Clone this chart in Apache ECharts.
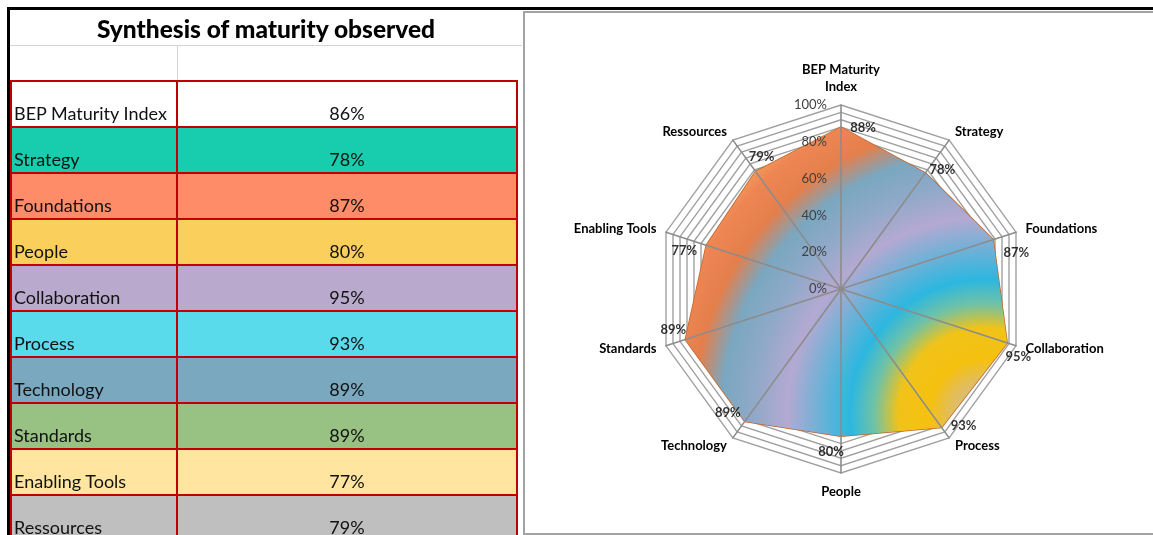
<!DOCTYPE html>
<html>
<head>
<meta charset="utf-8">
<script src="https://cdn.jsdelivr.net/npm/echarts@6/dist/echarts.min.js"></script>
<style>
  html, body { margin: 0; padding: 0; width: 1153px; height: 535px; overflow: hidden; background: #fff; font-family: Lato, "Open Sans", sans-serif; }
  #chart { position: absolute; left: 0; top: 0; width: 1153px; height: 535px; }
  #panel { position: absolute; left: 523px; top: 11px; width: 660px; height: 524px; border: 2px solid #a3a3a3; box-sizing: border-box; }
  #sheet { position: absolute; left: 0; top: 0; width: 523px; height: 535px; }
  .abs { position: absolute; }
  .title { left: 10px; top: 10px; width: 512px; height: 35px; line-height: 37px; text-align: center; font-weight: 900; font-size: 24.5px; color: #000; }
  .row { left: 10px; width: 507px; height: 46px; }
  .lbl { position: absolute; left: 4px; bottom: 3px; font-size: 18px; color: #111; }
  .val { position: absolute; left: 167px; width: 340px; bottom: 3px; text-align: center; font-size: 18px; color: #111; }
  .red { background: #c00000; }
</style>
</head>
<body>
<div id="chart"></div>
<div id="panel"></div>
<div id="sheet"></div>
<script>
// table (left side)
const tableTitle = "Synthesis of maturity observed";
const tableRows = ["BEP Maturity Index", "Strategy", "Foundations", "People", "Collaboration",
  "Process", "Technology", "Standards", "Enabling Tools", "Ressources"];
const tableValues = [86, 78, 87, 80, 95, 93, 89, 89, 77, 79];
const rowColors = ["#ffffff", "#17cdae", "#ff8c69", "#fbcf5b", "#b9aacd",
  "#59dbeb", "#79a8bf", "#98c283", "#ffe5a0", "#bfbfbf"];

// radar chart (right side), clockwise from the top
const chartCats = ["BEP Maturity Index", "Strategy", "Foundations", "Collaboration", "Process",
  "People", "Technology", "Standards", "Enabling Tools", "Ressources"];
const chartValues = [88, 78, 87, 95, 93, 80, 89, 89, 77, 79];
const tickValues = [0, 20, 40, 60, 80, 100];

// label nudges around each vertex, same order as chartCats
const labelOffsets = [[22, 1], [17, -3], [23, 13], [11, 14], [22, -2],
  [-10, 16], [-17, -9], [-12, -10], [-22, 6], [6, -15]];

const ROW_TOP = 81;
const ROW_H = 46;

function buildSheet() {
  const sheet = document.getElementById("sheet");
  const add = (cls, css, text) => {
    const d = document.createElement("div");
    d.className = "abs " + cls;
    Object.assign(d.style, css);
    if (text != null) d.textContent = text;
    sheet.appendChild(d);
    return d;
  };
  // black frame
  add("", { left: "7px", top: "7px", width: "1146px", height: "3px", background: "#000" });
  add("", { left: "7px", top: "7px", width: "3px", height: "528px", background: "#000" });
  add("title", {}, tableTitle);
  // light grid of the blank rows
  add("", { left: "10px", top: "45px", width: "512px", height: "1px", background: "#d4d4d4" });
  add("", { left: "177px", top: "46px", width: "1px", height: "35px", background: "#d4d4d4" });

  tableRows.forEach((name, i) => {
    const row = add("row", { top: ROW_TOP + i * ROW_H + "px", background: rowColors[i] });
    const l = document.createElement("span");
    l.className = "lbl";
    l.textContent = name;
    row.appendChild(l);
    const v = document.createElement("span");
    v.className = "val";
    v.textContent = tableValues[i] + "%";
    row.appendChild(v);
  });
  // red cell borders
  for (let i = 0; i <= tableRows.length; i++) {
    add("red", { left: "10px", top: ROW_TOP - 1 + i * ROW_H + "px", width: "508px", height: "2px" });
  }
  [10, 176, 516].forEach((x) => {
    add("red", { left: x + "px", top: ROW_TOP - 1 + "px", width: "2px", height: "460px" });
  });
}

buildSheet();

// ECharts radar lays out counter-clockwise, so feed it the reversed tail
const n = chartCats.length;
const ccwIdx = chartCats.map((_, i) => (n - i) % n);
const CENTER = [841, 289];
const RADIUS = 184;

const indicators = ccwIdx.map((i) => ({ name: chartCats[i], min: 0, max: 100 }));

const fill = {
  type: "radial",
  x: 0.93,
  y: 0.93,
  r: 1.12,
  colorStops: [
    { offset: 0.0, color: "#c9c2b4" },
    { offset: 0.1, color: "#e2bd5c" },
    { offset: 0.16, color: "#f6c10f" },
    { offset: 0.25, color: "#f0c31a" },
    { offset: 0.32, color: "#70c2a6" },
    { offset: 0.39, color: "#2cb7e0" },
    { offset: 0.49, color: "#78b0d6" },
    { offset: 0.57, color: "#b4a9d2" },
    { offset: 0.67, color: "#8fa9c8" },
    { offset: 0.76, color: "#7aa7c0" },
    { offset: 0.84, color: "#e47f4c" },
    { offset: 0.93, color: "#ee8654" },
    { offset: 1.0, color: "#f4a95e" },
  ],
};

const chart = echarts.init(document.getElementById("chart"));
chart.setOption({
  animation: false,
  textStyle: { fontFamily: "Lato, 'Open Sans', sans-serif" },
  radar: [
    {
      center: CENTER,
      radius: RADIUS,
      startAngle: 90,
      splitNumber: 25,
      indicator: indicators,
      shape: "polygon",
      nameGap: 10,
      axisName: {
        color: "#000",
        fontWeight: "bold",
        fontSize: 13,
        lineHeight: 17,
        formatter: (name) => (name === "BEP Maturity Index" ? "BEP Maturity\nIndex" : name),
      },
      axisLine: { show: false },
      splitLine: { lineStyle: { color: "#a0a0a0", width: 1.4 } },
      splitArea: { show: false },
      z: 0,
    },
    {
      // spokes drawn above the filled area
      center: CENTER,
      radius: RADIUS,
      startAngle: 90,
      indicator: indicators,
      shape: "polygon",
      axisName: { show: false },
      axisLine: { lineStyle: { color: "#8c8c8c", width: 1.6 } },
      splitLine: { show: false },
      splitArea: { show: false },
      z: 4,
    },
  ],
  grid: { left: CENTER[0], top: CENTER[1] - RADIUS, width: 1, height: RADIUS },
  xAxis: { type: "value", show: false },
  yAxis: {
    type: "value",
    min: tickValues[0],
    max: tickValues[tickValues.length - 1],
    interval: tickValues[1] - tickValues[0],
    axisLine: { show: false },
    axisTick: { show: false },
    splitLine: { show: false },
    axisLabel: { formatter: "{value}%", color: "#404040", fontSize: 13, margin: 14 },
    z: 10,
  },
  polar: { center: CENTER, radius: RADIUS },
  angleAxis: { type: "category", data: chartCats, startAngle: 90, clockwise: true, boundaryGap: false, show: false },
  radiusAxis: { min: 0, max: 100, show: false },
  series: [
    {
      type: "radar",
      radarIndex: 0,
      z: 2,
      symbol: "none",
      lineStyle: { color: "#c0652a", width: 1.5 },
      areaStyle: { color: fill, opacity: 1 },
      data: [{ value: ccwIdx.map((i) => chartValues[i]), name: "Maturity" }],
    },
    {
      type: "scatter",
      coordinateSystem: "polar",
      symbolSize: 0,
      z: 6,
      label: {
        show: true,
        position: "inside",
        color: "#000",
        fontWeight: "bold",
        fontSize: 13,
        formatter: (p) => p.value[0] + "%",
      },
      data: chartValues.map((v, i) => ({ value: [v, chartCats[i]], label: { offset: labelOffsets[i] } })),
    },
  ],
});
</script>
</body>
</html>
